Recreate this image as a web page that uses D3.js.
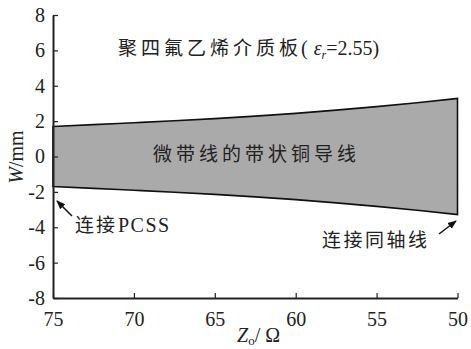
<!DOCTYPE html>
<html>
<head>
<meta charset="utf-8">
<script src="https://cdn.jsdelivr.net/npm/d3@7"></script>
</head>
<body style="margin:0;background:#ffffff">
<svg id="chart" width="471" height="349"></svg>
<script>
// Characteristic impedance along the tapered line (Ω)
const impedance = [75, 72.5, 70, 67.5, 65, 62.5, 60, 57.5, 55, 52.5, 50];
// Half-width of the copper strip at each impedance (mm)
const halfWidth = [1.70, 1.80, 1.91, 2.02, 2.14, 2.28, 2.44, 2.62, 2.82, 3.04, 3.28];
const xTicks = [75, 70, 65, 60, 55, 50];
const yTicks = [-8, -6, -4, -2, 0, 2, 4, 6, 8];

const SERIF = '"Liberation Serif", "Times New Roman", serif';
const CJK = '"Noto Sans CJK SC", sans-serif';

const svg = d3.select("#chart");

const x = d3.scaleLinear().domain([75, 50]).range([53, 457.5]);
const y = d3.scaleLinear().domain([-8, 8]).range([298, 15]);

const strip = impedance.map((z, i) => ({ z, w: halfWidth[i] }));

// Strip outline, symmetric about W = 0
const area = d3.area()
  .x(d => x(d.z))
  .y0(d => y(-d.w))
  .y1(d => y(d.w))
  .curve(d3.curveMonotoneX);

svg.append("path")
  .datum(strip)
  .attr("d", area)
  .attr("fill", "#aaaaaa")
  .attr("stroke", "#111")
  .attr("stroke-width", 1.6);

// Text helpers: serif for numbers and symbols, CJK sans for Chinese
const serif = sel => sel.style("font-family", SERIF, "important");
const cjk = sel => sel.style("font-family", CJK, "important");

// Axes with inward ticks; plain hyphen for negatives
const fmt = d => String(d);
const gx = svg.append("g")
  .attr("transform", `translate(0,${y(-8)})`)
  .call(d3.axisBottom(x).tickValues(xTicks).tickFormat(fmt).tickSize(-5).tickSizeOuter(0).tickPadding(14));
const gy = svg.append("g")
  .attr("transform", `translate(${x(75)},0)`)
  .call(d3.axisLeft(y).tickValues(yTicks).tickFormat(fmt).tickSize(-5).tickSizeOuter(0).tickPadding(8));

[gx, gy].forEach(g => {
  g.select(".domain").attr("stroke", "#222").attr("stroke-width", 2);
  g.selectAll(".tick line").attr("stroke", "#222").attr("stroke-width", 1.2);
  g.selectAll(".tick text").call(serif).style("font-size", "20px").attr("fill", "#222");
});

// Axis titles
const yTitle = svg.append("text")
  .attr("transform", `translate(23,157) rotate(-90)`)
  .attr("text-anchor", "middle")
  .call(serif)
  .style("font-size", "20px")
  .attr("fill", "#222");
yTitle.append("tspan").call(serif).style("font-style", "italic").text("W");
yTitle.append("tspan").call(serif).text("/mm");

const xTitle = svg.append("text")
  .attr("x", 237)
  .attr("y", 342)
  .call(serif)
  .style("font-size", "20px")
  .attr("fill", "#222");
xTitle.append("tspan").call(serif).style("font-style", "italic").text("Z");
xTitle.append("tspan").call(serif).style("font-size", "13px").attr("dy", 3).text("o");
xTitle.append("tspan").call(serif).attr("dy", -3).text("/ Ω");

// Substrate title: Chinese name, then the permittivity in serif
svg.append("text")
  .attr("x", 118)
  .attr("y", 55)
  .call(cjk)
  .style("font-size", "19px")
  .style("letter-spacing", "4px")
  .attr("fill", "#222")
  .text("聚四氟乙烯介质板");

const eps = svg.append("text")
  .attr("x", 301)
  .attr("y", 55)
  .call(serif)
  .style("font-size", "20px")
  .attr("fill", "#222");
eps.append("tspan").call(serif).text("(");
eps.append("tspan").call(serif).attr("dx", 6).style("font-style", "italic").text("ε");
eps.append("tspan").call(serif).style("font-size", "12px").style("font-style", "italic").attr("dy", 4).text("r");
eps.append("tspan").call(serif).attr("dy", -4).text("=2.55)");

// Label inside the strip
svg.append("text")
  .attr("x", 153)
  .attr("y", 161)
  .call(cjk)
  .style("font-size", "19px")
  .style("letter-spacing", "4px")
  .attr("fill", "#222")
  .text("微带线的带状铜导线");

// Arrow markers
svg.append("defs").append("marker")
  .attr("id", "head")
  .attr("viewBox", "0 0 10 10")
  .attr("refX", 9)
  .attr("refY", 5)
  .attr("markerWidth", 9)
  .attr("markerHeight", 9)
  .attr("markerUnits", "userSpaceOnUse")
  .attr("orient", "auto")
  .append("path")
  .attr("d", "M0,1 L10,5 L0,9 Z")
  .attr("fill", "#111");

svg.append("line")
  .attr("x1", 72).attr("y1", 216)
  .attr("x2", 57).attr("y2", 201)
  .attr("stroke", "#111").attr("stroke-width", 1.5)
  .attr("marker-end", "url(#head)");

svg.append("line")
  .attr("x1", 439).attr("y1", 234)
  .attr("x2", 456).attr("y2", 221)
  .attr("stroke", "#111").attr("stroke-width", 1.5)
  .attr("marker-end", "url(#head)");

// Connection labels
svg.append("text")
  .attr("x", 75)
  .attr("y", 232)
  .call(cjk)
  .style("font-size", "19px")
  .style("letter-spacing", "2px")
  .attr("fill", "#222")
  .text("连接");

svg.append("text")
  .attr("x", 118)
  .attr("y", 232)
  .call(serif)
  .style("font-size", "20px")
  .style("letter-spacing", "1.5px")
  .attr("fill", "#222")
  .text("PCSS");

svg.append("text")
  .attr("x", 322)
  .attr("y", 247)
  .call(cjk)
  .style("font-size", "19px")
  .style("letter-spacing", "2.5px")
  .attr("fill", "#222")
  .text("连接同轴线");
</script>
</body>
</html>
